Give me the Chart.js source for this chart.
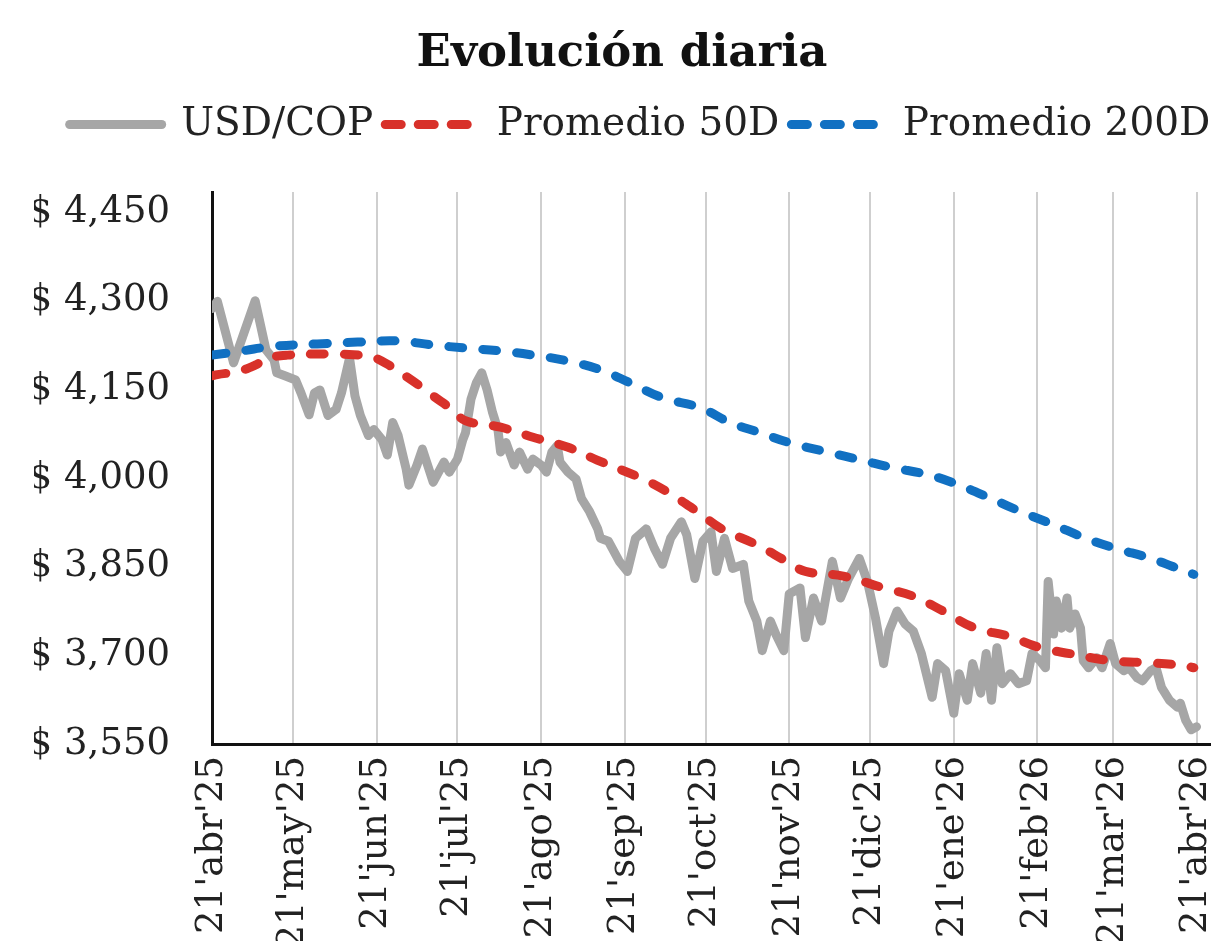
<!DOCTYPE html>
<html>
<head>
<meta charset="utf-8">
<script src="https://cdn.jsdelivr.net/npm/chart.js@4.4.1/dist/chart.umd.min.js"></script>
<style>
html,body{margin:0;background:#fff}
#wrap{width:1230px;height:941px}
</style>
</head>
<body>
<div id="wrap"><canvas id="chart"></canvas></div>
<script>
// days counted from 21 abr 2025
const usdDays=[0,2,8,16,20,23,24,27,31,33,36,38,40,43,46,48,51,53,55,58,60,63,65,67,69,72,73,76,78,82,86,88,91,93,94,96,98,100,102,104,106,107,109,112,114,117,119,122,124,126,128,129,132,135,137,140,143,144,147,151,154,157,161,164,167,170,174,176,179,182,185,187,190,193,197,199,202,204,207,209,212,214,218,220,223,226,228,230,233,236,240,243,246,249,251,254,257,260,263,267,269,272,275,277,280,282,285,287,289,291,293,296,299,302,304,307,309,310,312,313,315,317,318,320,322,323,325,328,330,333,335,338,340,343,345,348,350,352,355,358,359,361,363,365]
const usdValues=[4287,4299,4195,4300,4217,4200,4178,4173,4166,4144,4107,4144,4149,4106,4116,4144,4203,4139,4106,4072,4082,4065,4039,4094,4072,4015,3988,4022,4049,3993,4027,4010,4032,4065,4077,4133,4161,4178,4149,4111,4082,4044,4060,4022,4044,4015,4032,4022,4010,4044,4055,4027,4010,3998,3965,3943,3914,3898,3893,3859,3842,3898,3914,3881,3854,3898,3926,3904,3830,3893,3909,3842,3898,3847,3854,3792,3758,3708,3758,3736,3708,3804,3814,3730,3797,3758,3809,3859,3797,3830,3864,3825,3763,3686,3741,3775,3753,3741,3703,3629,3686,3674,3602,3669,3624,3686,3636,3703,3624,3713,3652,3669,3652,3657,3703,3691,3679,3825,3736,3792,3746,3797,3746,3770,3746,3691,3679,3696,3679,3720,3686,3674,3679,3662,3657,3674,3679,3646,3624,3612,3619,3590,3574,3579]

const ma50Days=[0,2,10,16,21,28,43,55,59,66,70,77,82,89,94,107,119,132,143,160,169,180,189,202,213,220,234,249,260,271,283,295,307,318,333,345,360,364]
const ma50Values=[4173,4175,4181,4191,4203,4208,4210,4208,4206,4190,4178,4156,4139,4116,4097,4086,4069,4052,4030,3998,3976,3943,3914,3887,3859,3842,3834,3814,3800,3775,3746,3733,3713,3703,3691,3688,3683,3679]

const ma200Days=[0,11,23,39,54,69,82,94,107,119,132,144,155,167,181,192,203,214,228,241,252,266,277,289,300,312,324,335,348,361,364]
const ma200Values=[4208,4215,4223,4227,4230,4232,4225,4220,4215,4208,4198,4183,4161,4136,4119,4094,4077,4060,4044,4030,4018,4005,3988,3965,3943,3921,3898,3881,3864,3842,3837]

const monthDays=[0,30,61,91,122,153,183,214,244,275,306,334,365]
const monthLabels=["21'abr'25","21'may'25","21'jun'25","21'jul'25","21'ago'25","21'sep'25","21'oct'25","21'nov'25","21'dic'25","21'ene'26","21'feb'26","21'mar'26","21'abr'26"]
const yTicks=[3550,3700,3850,4000,4150,4300,4450]

function pts(days,vals){
return days.map((d,i)=>({x:d,y:vals[i]}))
}

const font="'DejaVu Serif', serif"

// push the plot down below the legend, and nudge the legend right
const legendGap={
id:"legendGap",
beforeInit(chart){
const fit=chart.legend.fit
chart.legend.fit=function(){fit.call(this);this.height+=38}
},
afterLayout(chart){
chart.legend.left+=18
chart.legend.right+=18
}
}

function legendLabels(c){
let items=Chart.defaults.plugins.legend.labels.generateLabels(c)
items.forEach(it=>{
let ds=c.data.datasets[it.datasetIndex]
it.lineWidth=ds.borderWidth
it.lineCap="round"
it.lineDash=ds.borderDash?[16,17]:[]
})
return items
}

new Chart(document.getElementById("chart"),{
type:"line",
data:{
datasets:[
{label:"USD/COP",data:pts(usdDays,usdValues),borderColor:"#a6a6a6",borderWidth:9,
 pointRadius:0,tension:0,borderJoinStyle:"round",borderCapStyle:"round",order:2},
{label:"Promedio 50D",data:pts(ma50Days,ma50Values),borderColor:"#d8312a",borderWidth:9,
 borderDash:[14,20],borderCapStyle:"round",pointRadius:0,tension:0.4,order:0},
{label:"Promedio 200D",data:pts(ma200Days,ma200Values),borderColor:"#1170c2",borderWidth:9,
 borderDash:[14,20],borderCapStyle:"round",pointRadius:0,tension:0.4,order:1}
]
},
plugins:[legendGap],
options:{
responsive:true,
maintainAspectRatio:false,
animation:false,
layout:{padding:{left:34,right:20,top:0,bottom:0}},
plugins:{
title:{display:true,text:"Evolución diaria",color:"#111",
 font:{family:font,size:45,weight:"bold"},padding:{top:27,bottom:12}},
legend:{position:"top",
 labels:{usePointStyle:true,pointStyle:"line",pointStyleWidth:92,color:"#222",
  font:{family:font,size:39},padding:12,generateLabels:legendLabels,
  sort:(a,b)=>a.datasetIndex-b.datasetIndex}},
tooltip:{enabled:false}
},
scales:{
x:{type:"linear",min:0,max:370,
 afterBuildTicks:s=>{s.ticks=monthDays.map(v=>({value:v}))},
 afterFit:s=>{s.height=197;s.paddingLeft=0;s.paddingRight=0},
 grid:{color:"#cfcfcf",lineWidth:2,drawTicks:false},
 border:{color:"#111",width:3},
 ticks:{autoSkip:false,minRotation:90,maxRotation:90,padding:12,color:"#222",
  font:{family:font,size:37},
  callback:v=>monthLabels[monthDays.indexOf(v)]}},
y:{min:3550,max:4484,
 afterBuildTicks:s=>{s.ticks=yTicks.map(v=>({value:v}))},
 afterFit:s=>{s.width=178},
 grid:{display:false,drawTicks:false},
 border:{color:"#111",width:3},
 ticks:{padding:42,color:"#222",font:{family:font,size:37},
  callback:v=>"$ "+v.toLocaleString("en-US")}}
}
}
})
</script>
</body>
</html>
